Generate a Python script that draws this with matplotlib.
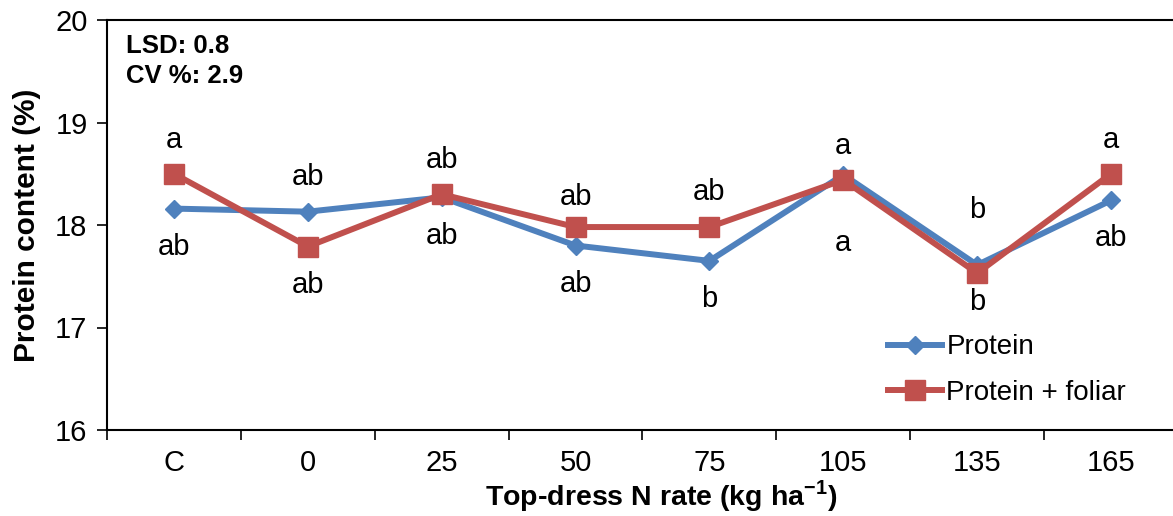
import matplotlib
matplotlib.use("Agg")
import matplotlib.pyplot as plt
import numpy as np

plt.rcParams['font.family'] = ['Liberation Sans', 'DejaVu Sans']
plt.rcParams['mathtext.fontset'] = 'custom'
plt.rcParams['mathtext.rm'] = 'Liberation Sans'
plt.rcParams['mathtext.bf'] = 'Liberation Sans:bold'

# data
categorias = ["C", "0", "25", "50", "75", "105", "135", "165"]
protein = [18.16, 18.13, 18.27, 17.80, 17.65, 18.49, 17.61, 18.24]
protein_foliar = [18.50, 17.79, 18.30, 17.98, 17.98, 18.44, 17.53, 18.50]
letras_protein = ["ab", "ab", "ab", "ab", "b", "a", "b", "ab"]
letras_foliar = ["a", "ab", "ab", "ab", "ab", "a", "b", "a"]

# label offsets in pixels (negative = above the point)
desloc_protein = [38, -35, 39, 38, 38, 68, -55, 38]
desloc_foliar = [-34, 38, -34, -30, -35, -34, 29, -34]

azul = "#4F81BD"
vermelho = "#C0504D"

fig = plt.figure(figsize=(11.73, 5.16), dpi=100)
ax = fig.add_axes([107/1173, 1 - 430/516, (1178 - 107)/1173, (430 - 20)/516])

x = np.arange(len(categorias))
ax.plot(x, protein, color=azul, lw=4.3, marker="D", ms=9.5, label="Protein", zorder=3)
ax.plot(x, protein_foliar, color=vermelho, lw=4.3, marker="s", ms=14, label="Protein + foliar", zorder=4)

for i in range(len(x)):
    ax.annotate(letras_protein[i], (x[i], protein[i]), xytext=(0, -desloc_protein[i] * 0.72),
                textcoords="offset points", ha="center", va="center", fontsize=21)
    ax.annotate(letras_foliar[i], (x[i], protein_foliar[i]), xytext=(0, -desloc_foliar[i] * 0.72),
                textcoords="offset points", ha="center", va="center", fontsize=21)

ax.set_xlim(-0.5, len(categorias) - 0.5)
ax.set_ylim(16, 20)
ax.set_yticks([16, 17, 18, 19, 20])
ax.set_xticks(np.arange(len(categorias) + 1) - 0.5)
ax.set_xticklabels([])
ax.set_xticks(x, minor=True)
ax.set_xticklabels(categorias, minor=True)
ax.tick_params(axis="x", which="minor", length=0, pad=14, labelsize=21)
ax.tick_params(axis="x", which="major", length=7, width=1.2, direction="out")
ax.tick_params(axis="y", length=7, width=1.2, direction="out", labelsize=21, pad=7)

for s in ax.spines.values():
    s.set_linewidth(1.5)

ax.set_ylabel("Protein content (%)", fontsize=21.5, fontweight="bold", labelpad=10)
ax.set_xlabel(r"Top-dress N rate (kg ha$^{\mathbf{-1}}$)", fontsize=20.5, fontweight="bold")
ax.xaxis.set_label_coords(0.517, -0.118)

ax.text(0.018, 0.965, "LSD: 0.8\nCV %: 2.9", transform=ax.transAxes, ha="left", va="top",
        fontsize=18.5, fontweight="bold", linespacing=1.3)

ax.legend(loc="center left", bbox_to_anchor=(888/1173, 1 - 370/516), bbox_transform=fig.transFigure,
          frameon=False, fontsize=20, borderpad=0, borderaxespad=0,
          handlelength=1.95, labelspacing=0.7, handletextpad=0.15)

fig.savefig("out.png", dpi=100)
